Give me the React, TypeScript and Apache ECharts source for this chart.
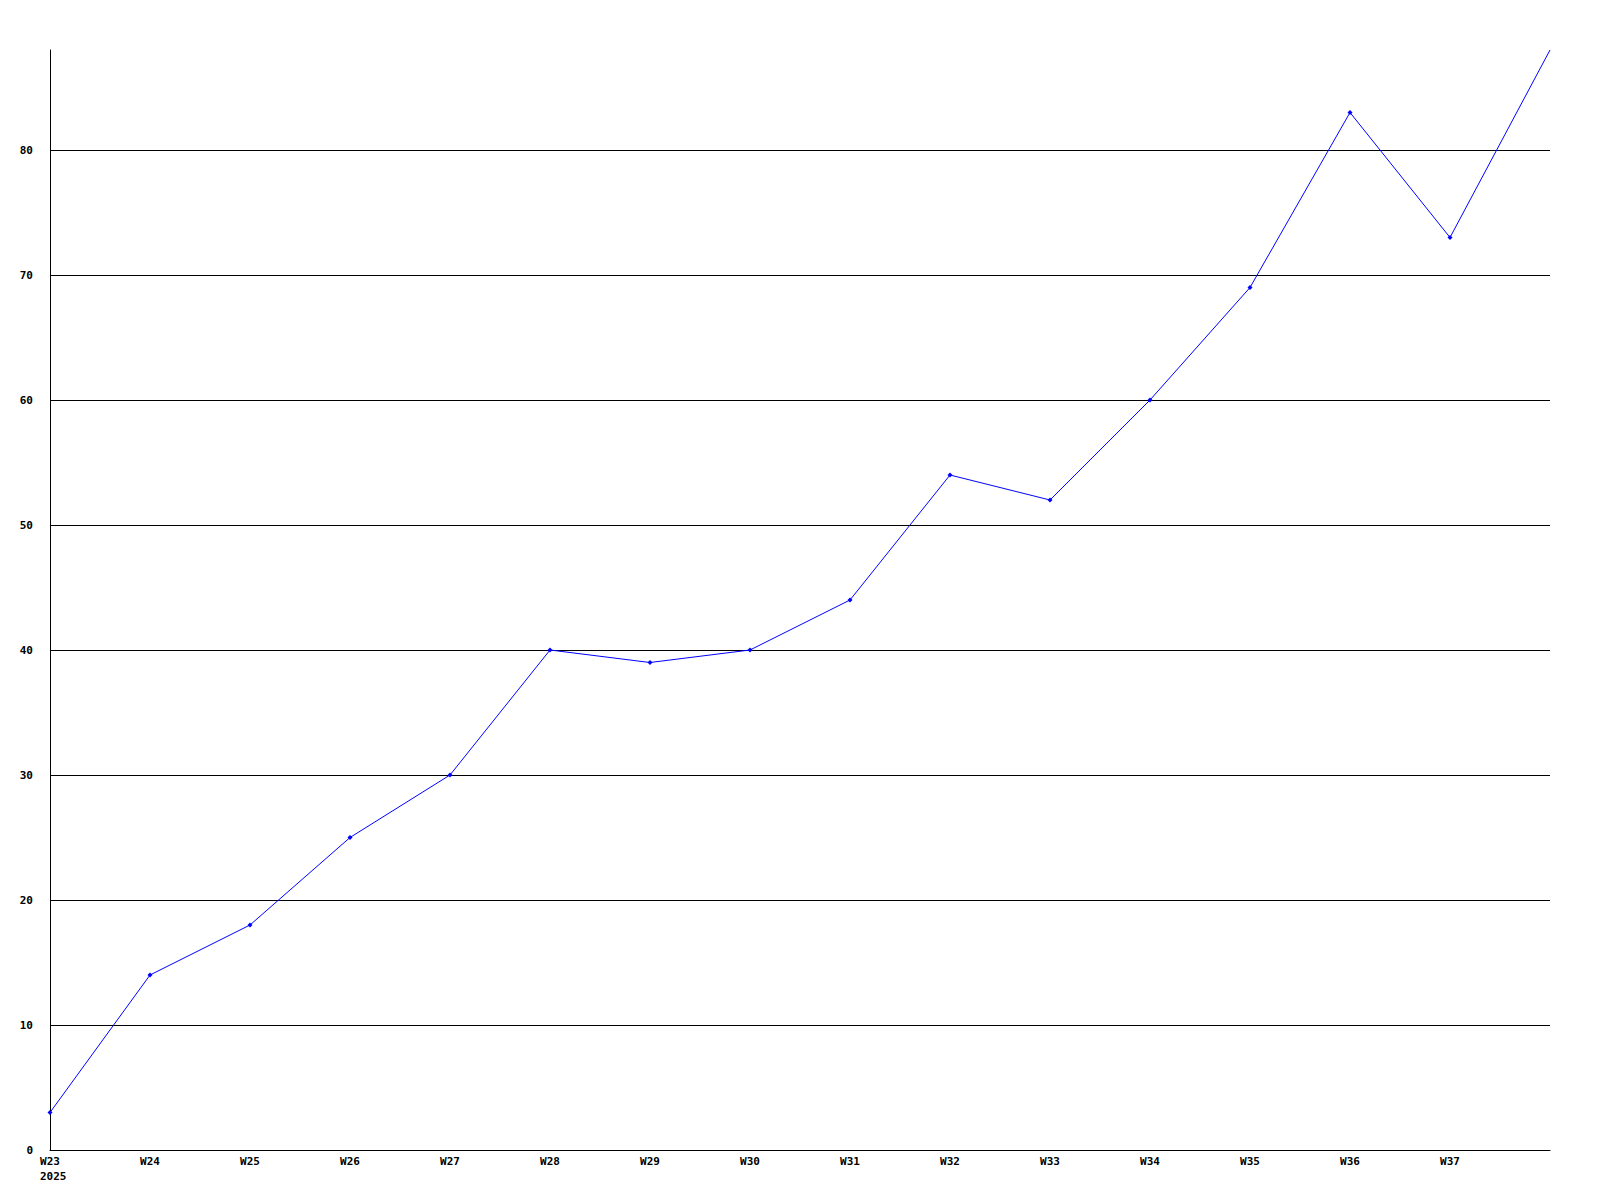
import React, { useEffect, useRef } from "react";
import * as echarts from "echarts";

const weeks = ["W23", "W24", "W25", "W26", "W27", "W28", "W29", "W30", "W31", "W32", "W33", "W34", "W35", "W36", "W37", "W38"];
const values = [3, 14, 18, 25, 30, 40, 39, 40, 44, 54, 52, 60, 69, 83, 73, 88];
const yearLabel = "2025";

const FONT = "'DejaVu Sans Mono', monospace";

export default function App() {
  const ref = useRef<HTMLDivElement>(null);
  useEffect(() => {
    document.body.style.margin = "0";
    const chart = echarts.init(ref.current!, null, { renderer: "svg" });
    const last = values.length - 1;
    chart.setOption({
      animation: false,
      backgroundColor: "#ffffff",
      grid: { left: 50, right: 50, top: 50, bottom: 50, containLabel: false },
      xAxis: {
        type: "category",
        data: weeks,
        boundaryGap: false,
        axisLine: { show: true, lineStyle: { color: "#000", width: 1 } },
        axisTick: { show: false },
        splitLine: { show: false },
        axisLabel: {
          show: true,
          interval: (index: number) => index < last,
          margin: 6,
          color: "#000",
          fontFamily: FONT,
          fontWeight: "bold",
          fontSize: 11,
        },
      },
      yAxis: {
        type: "value",
        min: 0,
        max: 88,
        interval: 10,
        axisLine: { show: true, lineStyle: { color: "#000", width: 1 } },
        axisTick: { show: false },
        splitLine: { show: true, showMaxLine: false, lineStyle: { color: "#000", width: 1 } },
        axisLabel: {
          show: true,
          showMaxLabel: false,
          margin: 17,
          color: "#000",
          fontFamily: FONT,
          fontWeight: "bold",
          fontSize: 11,
        },
      },
      graphic: [
        {
          type: "text",
          left: 40,
          top: 1171,
          style: {
            text: yearLabel,
            fill: "#000",
            font: "bold 11px 'DejaVu Sans Mono', monospace",
          },
        },
      ],
      series: [
        {
          type: "line",
          data: values.map((v, i) => (i === last ? { value: v, symbol: "none" } : v)),
          symbol: "diamond",
          symbolSize: 5,
          showAllSymbol: true,
          lineStyle: { color: "#0000ff", width: 1 },
          itemStyle: { color: "#0000ff" },
          clip: true,
        },
      ],
    });
    return () => chart.dispose();
  }, []);
  return <div ref={ref} style={{ position: "absolute", left: 0, top: 0, width: 1600, height: 1200 }} />;
}
